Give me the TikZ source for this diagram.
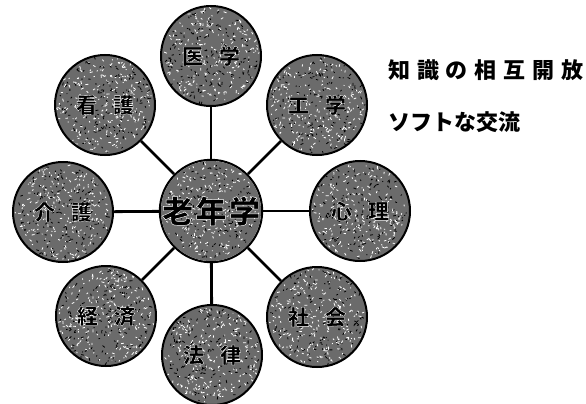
\documentclass[tikz,border=0pt]{standalone}
\usepackage{fontspec}
\usetikzlibrary{calc}
\newfontfamily\jp{Noto Sans CJK JP}
\newfontfamily\jpol{Noto Sans CJK JP}[FakeBold=1.5]
% black fill, white stroke of the glyph outlines (one text, no copies)
\newcommand{\haloed}[1]{\special{pdf:literal direct 1 G}#1\special{pdf:literal direct 0 G}}
\tikzset{
  disc/.style={fill=black!58},
  speck/.style={line width=0.8pt},
  field/.style={circle, draw=black, line width=2pt,
    minimum size=100pt, inner sep=0pt,
    font=\jpol\bfseries\fontsize{21}{21}\selectfont},
  core/.style={field, font=\jpol\bfseries\fontsize{31}{31}\selectfont},
  link/.style={line width=2.8pt, black},
  side/.style={anchor=west, inner sep=0pt, font=\jp\bfseries\fontsize{22}{22}\selectfont}
}
\newcommand{\twochar}[2]{\haloed{\hbox to 58pt{#1\hfill #2}}}
\newcommand{\grain}[1]{%
  \fill[disc] (#1) circle (50);
  \foreach \k in {1,...,380}{%
    \pgfmathsetmacro\ang{360*rnd}%
    \pgfmathsetmacro\rad{47.5*sqrt(rnd)}%
    \pgfmathsetmacro\rot{360*rnd}%
    \pgfmathsetmacro\len{0.8+2.4*rnd}%
    \pgfmathtruncatemacro\pick{mod(\k,5)}%
    \ifnum\pick<3 \def\gc{white}\else\def\gc{black}\fi
    \draw[speck,\gc] ($(#1)+(\ang:\rad)$) -- ++(\rot:\len);
  }}
\begin{document}
\begin{tikzpicture}[x=1pt,y=-1pt]
\useasboundingbox (0,0) rectangle (586,404);
\pgfmathsetseed{11}
\coordinate (p0) at (211,211);
\coordinate (p1) at (211,56);
\coordinate (p2) at (317,105);
\coordinate (p3) at (360,211);
\coordinate (p4) at (317,317);
\coordinate (p5) at (212,355);
\coordinate (p6) at (106,316);
\coordinate (p7) at (63,212);
\coordinate (p8) at (105,105);
\foreach \p in {p0,p1,p2,p3,p4,p5,p6,p7,p8} {\grain{\p}}
\node[core] (rounen) at (p0) {\haloed{\hbox to 98pt{老\hfill 年\hfill 学}}};
\node[field] (igaku)  at (p1) {\twochar{医}{学}};
\node[field] (kougaku) at (p2) {\twochar{工}{学}};
\node[field] (shinri) at (p3) {\twochar{心}{理}};
\node[field] (shakai) at (p4) {\twochar{社}{会}};
\node[field] (houritsu) at (p5) {\twochar{法}{律}};
\node[field] (keizai) at (p6) {\twochar{経}{済}};
\node[field] (kaigo) at (p7) {\twochar{介}{護}};
\node[field] (kango) at (p8) {\twochar{看}{護}};
\foreach \n in {igaku,kougaku,shinri,shakai,houritsu,keizai,kaigo,kango}
  \draw[link] (rounen) -- (\n);
\node[side] (t1) at (388,70) {\hbox to 195pt{知\hfill 識\hfill の\hfill 相\hfill 互\hfill 開\hfill 放}};
\node[side] (t2) at (388,122) {ソフトな交流};
\end{tikzpicture}
\end{document}
